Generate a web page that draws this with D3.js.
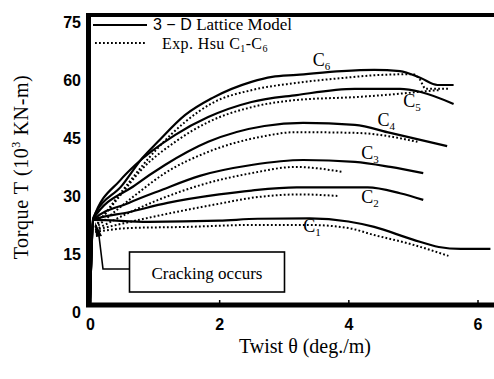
<!DOCTYPE html>
<html>
<head>
<meta charset="utf-8">
<script src="https://cdn.jsdelivr.net/npm/d3@7"></script>
<style>
  html, body { margin: 0; padding: 0; background: #fff; }
  svg { display: block; }
  .serif { font-family: "Liberation Serif", "Times New Roman", serif; }
  .sans { font-family: "Liberation Sans", Arial, sans-serif; }
</style>
</head>
<body>
<svg id="chart" width="494" height="379"></svg>
<script>
// Twist (deg./m) vs torque (10^3 kN-m) for beams C1..C6
const xTicks = [0, 2, 4, 6];
const yTicks = [0, 15, 30, 45, 60, 75];
const beams = ["C1", "C2", "C3", "C4", "C5", "C6"];

// 3-D lattice model (solid)
const modelC1 = [[0,0],[0.05,22.0],[0.9,21.5],[2.0,21.8],[2.6,22.3],[3.4,22.4],[4.0,21.6],[4.4,20.2],[5.0,16.9],[5.4,15.0],[5.74,14.5],[6.2,14.5]];
const modelC2 = [[0,0],[0.05,22.0],[0.6,24.0],[1.2,26.4],[2.0,28.6],[2.5,29.6],[3.2,30.4],[4.3,30.4],[4.8,28.9],[5.16,27.2]];
const modelC3 = [[0,0],[0.05,22.0],[0.6,26.4],[1.1,29.7],[1.7,33.4],[2.5,36.2],[3.3,37.5],[4.1,37.0],[4.65,35.7],[5.16,34.1]];
const modelC4 = [[0,0],[0.05,22.2],[0.7,31.0],[1.16,36.2],[1.83,42.2],[2.7,46.3],[3.3,47.1],[4.1,46.6],[4.65,44.5],[5.53,41.1]];
const modelC5 = [[0,0],[0.05,22.2],[0.47,32.3],[0.7,36.2],[1.32,44.0],[1.83,48.6],[2.5,52.5],[3.2,54.3],[4.1,55.9],[4.8,55.9],[5.12,55.1],[5.63,52.0]];
const modelC6 = [[0,0],[0.05,22.5],[0.5,31.0],[0.81,38.0],[1.05,42.2],[1.47,49.1],[1.89,53.5],[2.5,57.7],[2.82,59.0],[3.2,59.5],[3.9,60.5],[4.4,60.8],[4.8,60.5],[5.12,58.7],[5.38,56.9],[5.63,56.9]];

// Hsu experiments (dotted)
const expC1 = [[0.08,18.9],[0.6,19.9],[1.5,20.2],[2.5,20.7],[3.4,20.7],[4.0,19.9],[4.4,18.1],[5.0,15.6],[5.55,12.7]];
const expC2 = [[0.08,19.4],[0.62,21.5],[1.2,23.6],[2.0,26.2],[2.5,27.7],[3.26,28.6],[3.83,28.2]];
const expC3 = [[0.08,19.4],[0.62,24.0],[1.09,27.4],[1.71,31.0],[2.5,34.1],[3.18,35.7],[3.92,34.4]];
const expC4 = [[0.08,19.9],[0.7,28.4],[1.16,34.1],[1.83,39.6],[2.71,43.7],[3.18,44.7],[4.14,44.5],[5.07,42.2]];
const expC5 = [[0.08,20.2],[0.5,29.0],[0.78,34.7],[1.32,42.2],[1.83,47.3],[2.51,51.2],[3.18,53.0],[4.14,53.8],[4.9,54.8],[5.2,55.3],[5.43,55.6]];
const expC6 = [[0.08,20.2],[0.5,29.5],[1.05,40.6],[1.47,47.3],[1.89,52.2],[2.51,55.6],[3.18,57.4],[3.9,58.7],[4.5,59.5],[5.0,59.7],[5.1,58.5],[5.2,55.9],[5.55,55.9]];

const modelSeries = [modelC1, modelC2, modelC3, modelC4, modelC5, modelC6];
const expSeries = [expC1, expC2, expC3, expC4, expC5, expC6];

// label anchor (theta, torque) for each beam name
const beamLabelAt = [[3.3, 19.0], [4.2, 26.4], [4.2, 37.8], [4.45, 46.3], [4.85, 51.2], [3.45, 61.7]];

const svg = d3.select("#chart");
const x = d3.scaleLinear().domain([0, 6]).range([90, 477.5]);
const y = d3.scaleLinear().domain([0, 75]).range([305, 15]);

const line = d3.line()
  .x(d => x(d[0]))
  .y(d => y(d[1]))
  .curve(d3.curveMonotoneX);

// curves
svg.append("g").selectAll("path.model")
  .data(modelSeries).join("path")
  .attr("class", "model")
  .attr("d", line)
  .attr("fill", "none")
  .attr("stroke", "#000")
  .attr("stroke-width", 2.2)
  .attr("stroke-linejoin", "round");

svg.append("g").selectAll("path.exp")
  .data(expSeries).join("path")
  .attr("class", "exp")
  .attr("d", line)
  .attr("fill", "none")
  .attr("stroke", "#000")
  .attr("stroke-width", 2)
  .attr("stroke-dasharray", "1.8,2.2");

// frame: thick left and bottom axes, top border
const frame = svg.append("g").attr("stroke", "#000").attr("fill", "none");
frame.append("line").attr("x1", 86).attr("x2", 494).attr("y1", y(0)).attr("y2", y(0)).attr("stroke-width", 5);
frame.append("line").attr("x1", 88.5).attr("x2", 88.5).attr("y1", y(75) - 2).attr("y2", y(0) + 2).attr("stroke-width", 5);
frame.append("line").attr("x1", 86).attr("x2", 494).attr("y1", y(75)).attr("y2", y(75)).attr("stroke-width", 4);

// axes (ticks inside, labels outside)
const xAxis = d3.axisBottom(x).tickValues(xTicks).tickSize(0).tickPadding(14).tickFormat(d3.format("d"));
const gx = svg.append("g").attr("transform", `translate(0,${y(0)})`).call(xAxis);
gx.select(".domain").remove();
gx.selectAll(".tick line").attr("y2", -5).attr("stroke", "#000").attr("stroke-width", 1.5);
gx.selectAll("text").attr("class", "sans").attr("font-size", 16).attr("font-weight", "bold").attr("fill", "#000");

const yAxis = d3.axisLeft(y).tickValues(yTicks).tickSize(0).tickPadding(7).tickFormat(d3.format("d"));
const gy = svg.append("g").attr("transform", `translate(88,0)`).call(yAxis);
gy.select(".domain").remove();
gy.selectAll("text").attr("class", "sans").attr("font-size", 16).attr("font-weight", "bold").attr("fill", "#000").attr("dy", "0.75em");

// axis titles
svg.append("text").attr("class", "serif")
  .attr("x", 305).attr("y", 353).attr("text-anchor", "middle").attr("font-size", 20)
  .text("Twist θ (deg./m)");

const yt = svg.append("text").attr("class", "serif")
  .attr("transform", "translate(28,167) rotate(-90)")
  .attr("text-anchor", "middle").attr("font-size", 20).attr("letter-spacing", 0.6);
yt.append("tspan").text("Torque T (10");
yt.append("tspan").attr("font-size", 12).attr("dy", -8).text("3");
yt.append("tspan").attr("dy", 8).text(" KN-m)");

// beam names on the curves
const bl = svg.append("g").attr("class", "serif");
beams.forEach((b, i) => {
  const t = bl.append("text").attr("x", x(beamLabelAt[i][0])).attr("y", y(beamLabelAt[i][1])).attr("font-size", 18);
  t.append("tspan").text(b[0]);
  t.append("tspan").attr("font-size", 11).attr("dy", 4).text(b.slice(1));
});

// legend
const lg = svg.append("g");
lg.append("line").attr("x1", 93).attr("x2", 147).attr("y1", 25).attr("y2", 25).attr("stroke", "#000").attr("stroke-width", 2.2);
lg.append("line").attr("x1", 95).attr("x2", 146).attr("y1", 43).attr("y2", 43).attr("stroke", "#000").attr("stroke-width", 2).attr("stroke-dasharray", "1.8,2.2");
const l1 = lg.append("text").attr("x", 153).attr("y", 30);
l1.append("tspan").attr("class", "sans").attr("font-size", 16).text("3 − D ");
l1.append("tspan").attr("class", "serif").attr("font-size", 17).text("Lattice Model");
const l2 = lg.append("text").attr("class", "serif").attr("x", 162).attr("y", 49).attr("font-size", 16).attr("letter-spacing", 0.4);
l2.append("tspan").text("Exp. Hsu C");
l2.append("tspan").attr("font-size", 10).attr("dy", 3).text("1");
l2.append("tspan").attr("dy", -3).text("-C");
l2.append("tspan").attr("font-size", 10).attr("dy", 3).text("6");

// cracking annotation with leader and arrow
const ann = svg.append("g");
ann.append("rect").attr("x", 129.5).attr("y", 252).attr("width", 155).attr("height", 40)
  .attr("fill", "#fff").attr("stroke", "#000").attr("stroke-width", 1.6);
ann.append("text").attr("class", "serif").attr("x", 207).attr("y", 279).attr("text-anchor", "middle")
  .attr("font-size", 17).text("Cracking occurs");
ann.append("path").attr("d", "M129,269 H103 L99,236").attr("fill", "none").attr("stroke", "#000").attr("stroke-width", 1.6);
ann.append("path").attr("d", "M95,222 L102,236 L96,237 Z").attr("fill", "#000");
</script>
</body>
</html>
